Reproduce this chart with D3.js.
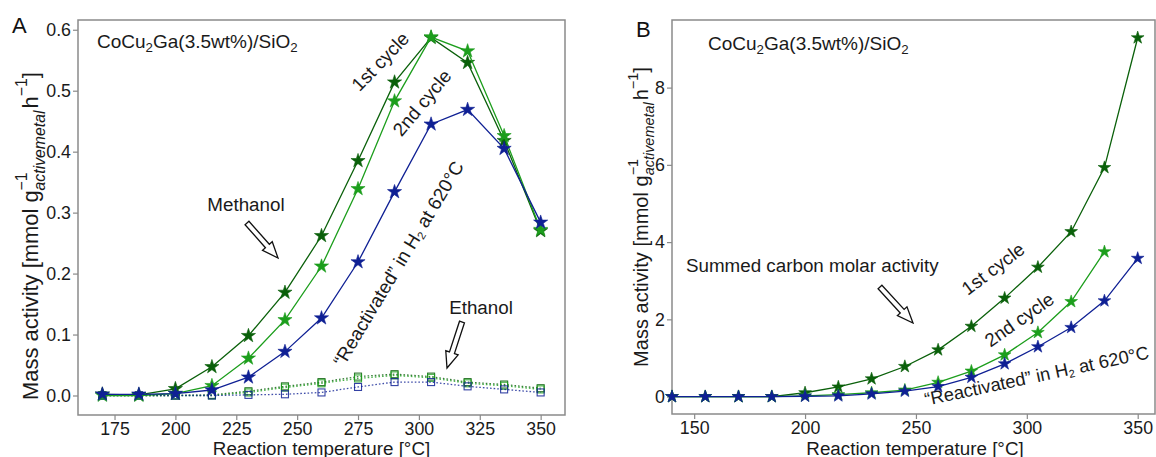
<!DOCTYPE html>
<html><head><meta charset="utf-8">
<script src="https://cdn.jsdelivr.net/npm/d3@7"></script>
<style>body{margin:0;background:#fff}svg{display:block;font-family:"Liberation Sans",Arial,sans-serif}</style>
</head><body><svg id="c" width="1156" height="457"></svg>
<script>
// ---------- data ----------
const tempsA = [170,185,200,215,230,245,260,275,290,305,320,335,350];
const meoh1st = [0.002,0.001,0.011,0.047,0.098,0.169,0.262,0.385,0.514,0.587,0.546,0.418,0.270];
const meoh2nd = [0.000,0.000,0.003,0.016,0.061,0.124,0.212,0.339,0.483,0.588,0.565,0.426,0.272];
const meohReact = [0.002,0.002,0.003,0.009,0.030,0.072,0.127,0.219,0.334,0.445,0.469,0.405,0.284];
const etoh1st = [0,0,0,0.001,0.007,0.015,0.022,0.031,0.035,0.031,0.022,0.018,0.012];
const etoh2nd = [0,0,0,0.000,0.005,0.013,0.020,0.028,0.033,0.029,0.020,0.016,0.010];
const etohReact = [0,0,0,0,0.001,0.002,0.005,0.014,0.022,0.022,0.015,0.010,0.005];

const tempsB = [140,155,170,185,200,215,230,245,260,275,290,305,320,335,350];
const sum1st = [0,0,0,0,0.10,0.25,0.46,0.78,1.21,1.82,2.55,3.35,4.27,5.93,9.29];
const sum2nd = [0,0,0,0,0.02,0.05,0.10,0.17,0.37,0.66,1.08,1.66,2.46,3.75];
const sumReact = [0,0,0,0,0.01,0.02,0.07,0.14,0.26,0.50,0.85,1.29,1.79,2.48,3.58];

const ticksAx = [175,200,225,250,275,300,325,350];
const ticksAy = [0,0.1,0.2,0.3,0.4,0.5,0.6];
const ticksBx = [150,200,250,300,350];
const ticksBy = [0,2,4,6,8];

const C1 = "#0a600a", C2 = "#1c9e1c", CR = "#0f2094";
const frameColor = "#8a8a8a";
const FS = 18.8;

const svg = d3.select("#c");

function panel(o){
  const g = svg.append("g");
  const x = d3.scaleLinear().domain(o.xd).range(o.xr);
  const y = d3.scaleLinear().domain(o.yd).range(o.yr);
  g.append("rect").attr("x",o.xr[0]).attr("y",o.yr[1]).attr("width",o.xr[1]-o.xr[0]).attr("height",o.yr[0]-o.yr[1])
    .attr("fill","none").attr("stroke",frameColor).attr("stroke-width",1.5);
  const ax = g.append("g").attr("transform",`translate(0,${o.yr[0]})`)
    .call(d3.axisBottom(x).tickValues(o.tx).tickSize(5).tickSizeOuter(0).tickPadding(2));
  const ay = g.append("g").attr("transform",`translate(${o.xr[0]},0)`)
    .call(d3.axisLeft(y).tickValues(o.ty).tickFormat(o.fy).tickSize(5).tickSizeOuter(0).tickPadding(2));
  [ax,ay].forEach(a=>{
    a.select(".domain").remove();
    a.selectAll("line").attr("stroke",frameColor).attr("stroke-width",1.2);
    a.selectAll("text").attr("font-size",17.8).attr("fill","#1a1a1a").attr("font-family","Liberation Sans, Arial, sans-serif");
  });
  return {g,x,y};
}

function starSeries(p, xs, ys, color, size){
  const pts = ys.map((v,i)=>[xs[i],v]);
  p.g.append("path").datum(pts).attr("fill","none").attr("stroke",color).attr("stroke-width",1.3)
    .attr("d", d3.line().x(d=>p.x(d[0])).y(d=>p.y(d[1])));
  p.g.selectAll(null).data(pts).enter().append("path")
    .attr("transform",d=>`translate(${p.x(d[0])},${p.y(d[1])})`)
    .attr("d", d3.symbol(d3.symbolStar, size)).attr("fill",color).attr("stroke",color).attr("stroke-width",0.6);
}
function squareSeries(p, xs, ys, color){
  const pts = ys.map((v,i)=>[xs[i],v]);
  p.g.append("path").datum(pts).attr("fill","none").attr("stroke",color).attr("stroke-width",1.3)
    .attr("stroke-dasharray","1.6,2").attr("opacity",0.8)
    .attr("d", d3.line().x(d=>p.x(d[0])).y(d=>p.y(d[1])));
  p.g.selectAll(null).data(pts).enter().append("rect")
    .attr("x",d=>p.x(d[0])-3.5).attr("y",d=>p.y(d[1])-3.5).attr("width",7).attr("height",7)
    .attr("fill","none").attr("stroke",color).attr("stroke-width",1.1).attr("opacity",0.85);
}

function ylabel(cy, baseX, targetLen){
  const g = svg.append("g").attr("transform",`translate(${baseX},${cy}) rotate(-90)`);
  const build = (fs) => {
    g.selectAll("*").remove();
    const small = fs*0.72;
    let xpos = 0;
    const add = (txt, size, dy, italic, advance=true) => {
      const t = g.append("text").attr("x",xpos).attr("y",dy).attr("font-size",size).attr("fill","#1a1a1a")
        .attr("font-style", italic?"italic":"normal").text(txt);
      const w = t.node().getComputedTextLength();
      if (advance) xpos += w;
      return w;
    };
    add("Mass activity [mmol g", fs, 0, false);
    const w1 = add("\u22121", small, -fs*0.5, false, false);
    const w2 = add("activemetal", small, fs*0.3, true, false);
    xpos += Math.max(w1,w2) + fs*0.1;
    add(" h", fs, 0, false);
    add("\u22121", small, -fs*0.5, false);
    add("]", fs, 0, false);
    return xpos;
  };
  const L0 = build(20);
  const L = build(20*targetLen/L0);
  g.selectAll("text").attr("x", function(){ return +d3.select(this).attr("x") - L/2; });
}

function title(x, y, fs){
  const t = svg.append("text").attr("x",x).attr("y",y).attr("font-size",fs).attr("fill","#1a1a1a");
  t.append("tspan").text("CoCu");
  t.append("tspan").attr("font-size",fs*0.7).attr("dy",fs*0.22).text("2");
  t.append("tspan").attr("dy",-fs*0.22).text("Ga(3.5wt%)/SiO");
  t.append("tspan").attr("font-size",fs*0.7).attr("dy",fs*0.22).text("2");
}
function rotText(cx, cy, ang, fs, parts){
  const t = svg.append("text").attr("transform",`translate(${cx},${cy}) rotate(${ang})`)
    .attr("text-anchor","middle").attr("font-size",fs).attr("fill","#1a1a1a");
  parts.forEach(p=>{
    const s = t.append("tspan").text(p.t);
    if (p.sub){ s.attr("font-size",fs*0.6).attr("dy",fs*0.15); }
    if (p.back){ s.attr("dy",-fs*0.15); }
  });
}
function arrow(x0,y0,x1,y1){
  const L = Math.hypot(x1-x0,y1-y0), a = Math.atan2(y1-y0,x1-x0)*180/Math.PI;
  const hw = 6.5, sw = 2.6, hl = 16;
  const pts = [[0,-sw],[L-hl,-sw],[L-hl,-hw],[L,0],[L-hl,hw],[L-hl,sw],[0,sw]];
  svg.append("path").attr("transform",`translate(${x0},${y0}) rotate(${a})`)
    .attr("d","M"+pts.map(p=>p.join(",")).join("L")+"Z")
    .attr("fill","#fff").attr("stroke","#111").attr("stroke-width",1.3);
}

// ---------- Panel A ----------
const pA = panel({xd:[160,360], xr:[78,565], yd:[-0.032,0.616], yr:[415,20],
  tx:ticksAx, ty:ticksAy, fy:d3.format(".1f")});
squareSeries(pA, tempsA, etoh1st, C1);
squareSeries(pA, tempsA, etoh2nd, C2);
squareSeries(pA, tempsA, etohReact, CR);
starSeries(pA, tempsA, meoh1st, C1, 62);
starSeries(pA, tempsA, meoh2nd, C2, 62);
starSeries(pA, tempsA, meohReact, CR, 62);

// ---------- Panel B ----------
const pB = panel({xd:[140,357.8], xr:[672,1155], yd:[-0.45,9.75], yr:[414,20],
  tx:ticksBx, ty:ticksBy, fy:d3.format("d")});
starSeries(pB, tempsB, sum1st, C1, 50);
starSeries(pB, tempsB.slice(0,sum2nd.length), sum2nd, C2, 50);
starSeries(pB, tempsB, sumReact, CR, 50);

// ---------- labels ----------
svg.append("text").attr("x",12).attr("y",33).attr("font-size",22).attr("fill","#111").text("A");
svg.append("text").attr("x",636).attr("y",37).attr("font-size",22).attr("fill","#111").text("B");
title(97, 48, 19);
title(708, 50, 19);
ylabel(236, 38, 328);
ylabel(217, 648, 300);
svg.append("text").attr("x",321.5).attr("y",454.5).attr("text-anchor","middle").attr("font-size",FS).attr("fill","#1a1a1a").text("Reaction temperature [°C]");
svg.append("text").attr("x",915).attr("y",454.5).attr("text-anchor","middle").attr("font-size",FS).attr("fill","#1a1a1a").text("Reaction temperature [°C]");

svg.append("text").attr("x",246).attr("y",211).attr("text-anchor","middle").attr("font-size",FS).attr("fill","#1a1a1a").text("Methanol");
svg.append("text").attr("x",481).attr("y",314).attr("text-anchor","middle").attr("font-size",FS).attr("fill","#1a1a1a").text("Ethanol");
svg.append("text").attr("x",686).attr("y",272).attr("font-size",FS).attr("fill","#1a1a1a").text("Summed carbon molar activity");
arrow(247,223,278,258);
arrow(462,322,447,368);
arrow(880,287,913,323);

rotText(385,66,-46,FS,[{t:"1st cycle"}]);
rotText(427,107,-50,FS,[{t:"2nd cycle"}]);
rotText(404,267,-59,FS,[{t:"\u201cReactivated\u201d in H"},{t:"2",sub:true},{t:" at 620°C",back:true}]);
rotText(997,274,-37,FS,[{t:"1st cycle"}]);
rotText(1023,325,-35,FS,[{t:"2nd cycle"}]);
rotText(1038,382,-12,18.3,[{t:"\u201cReactivated\u201d in H"},{t:"2",sub:true},{t:" at 620°C",back:true}]);
</script></body></html>
